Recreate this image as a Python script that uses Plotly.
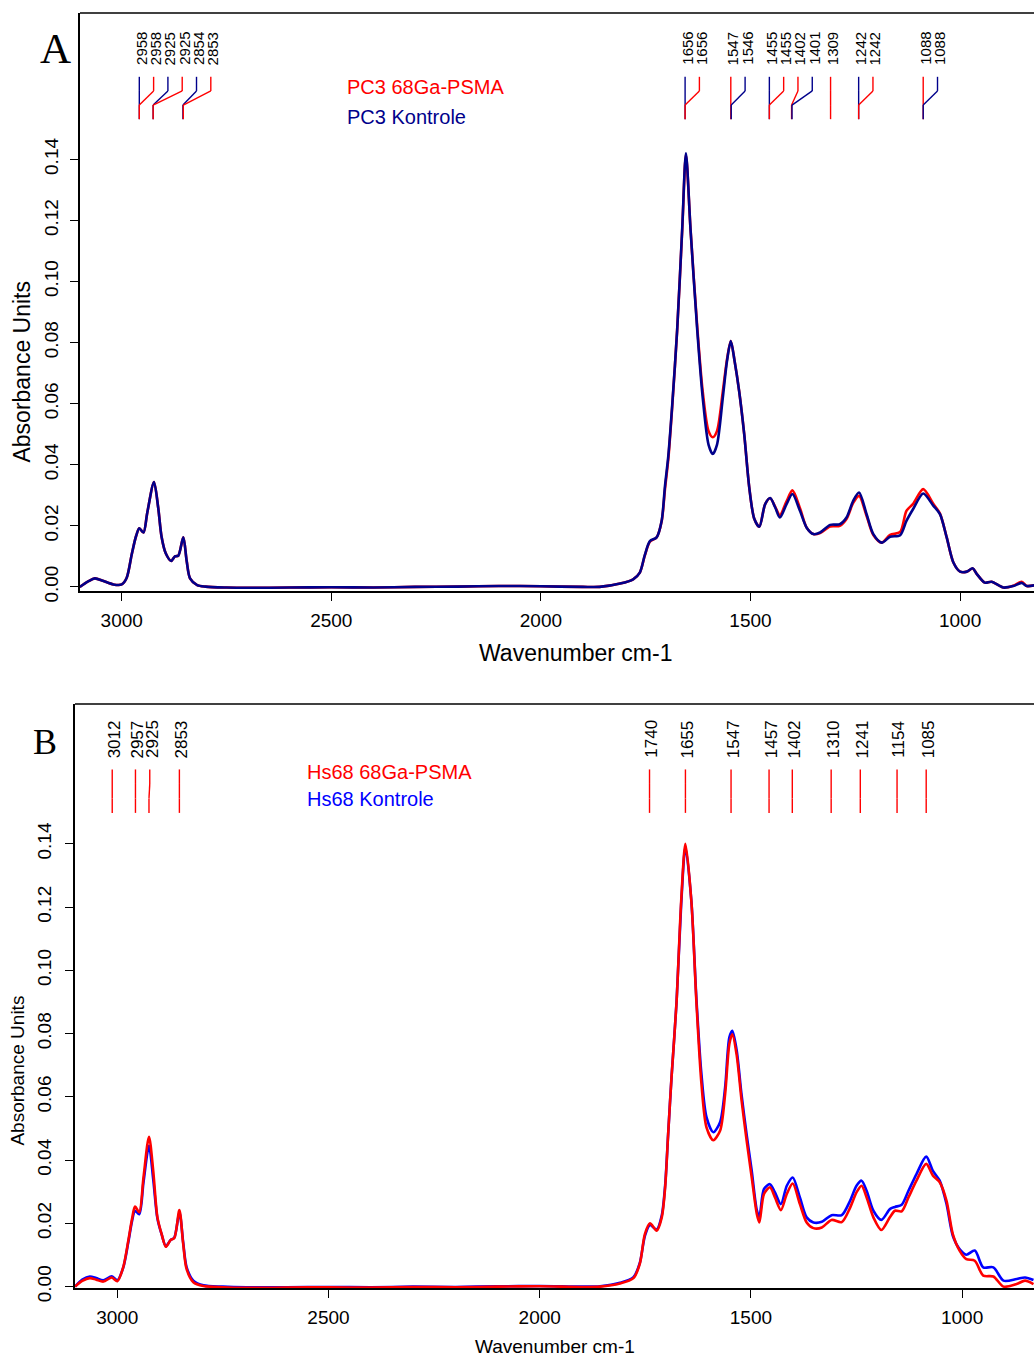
import plotly.graph_objects as go

REF_W, REF_H = 1034, 1356      # reference picture size; all positions below are in its pixels
W = REF_W
H = 1372                        # figure height: the page capture is squeezed to 1356 px tall

# ---------------- Panel A data (PC3) ----------------
wn_a = [3100, 3080, 3064, 3045, 3020, 3000, 2988, 2976, 2966, 2958, 2948, 2939, 2923, 2913, 2905,
        2895, 2882, 2873, 2865, 2853, 2845, 2837, 2820, 2800, 2750, 2700, 2600, 2500, 2400, 2300,
        2200, 2100, 2000, 1900, 1860, 1811, 1780, 1764, 1752, 1740, 1724, 1712, 1704, 1696, 1687,
        1675, 1663, 1654, 1643, 1627, 1614, 1600, 1590, 1580, 1566, 1556, 1547, 1538, 1527, 1515,
        1503, 1491, 1479, 1465, 1453, 1441, 1430, 1414, 1400, 1382, 1366, 1350, 1334, 1310, 1287,
        1271, 1255, 1241, 1223, 1207, 1187, 1167, 1143, 1128, 1112, 1088, 1064, 1048, 1032, 1016,
        1000, 984, 970, 960, 941, 925, 897, 873, 853, 841, 820]
a_kontrole = [0.0000, 0.0018, 0.0028, 0.0020, 0.0008, 0.0008, 0.0030, 0.0107, 0.0165, 0.0192, 0.0178, 0.0243, 0.0343, 0.0260, 0.0165,
              0.0110, 0.0085, 0.0100, 0.0102, 0.0162, 0.0085, 0.0028, 0.0006, 0.0001, -0.0002, -0.0003, -0.0002, -0.0001, -0.0002, 0.0000,
              0.0001, 0.0003, 0.0002, 0.0000, 0.0000, 0.0011, 0.0025, 0.0047, 0.0105, 0.0150, 0.0162, 0.0216, 0.0330, 0.0430, 0.0590,
              0.0840, 0.1170, 0.1420, 0.1170, 0.0840, 0.0620, 0.0465, 0.0435, 0.0465, 0.0620, 0.0740, 0.0805, 0.0740, 0.0640, 0.0500,
              0.0326, 0.0223, 0.0197, 0.0271, 0.0291, 0.0260, 0.0227, 0.0271, 0.0304, 0.0249, 0.0194, 0.0173, 0.0178, 0.0203, 0.0205,
              0.0227, 0.0282, 0.0309, 0.0238, 0.0173, 0.0145, 0.0164, 0.0169, 0.0216, 0.0255, 0.0306, 0.0266, 0.0238, 0.0162, 0.0080,
              0.0050, 0.0050, 0.0061, 0.0042, 0.0014, 0.0017, -0.0002, 0.0003, 0.0013, 0.0003, 0.0006]
a_psma = [0.0000, 0.0018, 0.0028, 0.0020, 0.0008, 0.0008, 0.0030, 0.0107, 0.0165, 0.0192, 0.0178, 0.0243, 0.0343, 0.0260, 0.0165,
          0.0110, 0.0085, 0.0100, 0.0102, 0.0162, 0.0085, 0.0028, 0.0006, 0.0001, -0.0002, -0.0003, -0.0002, -0.0001, -0.0002, 0.0000,
          0.0001, 0.0003, 0.0002, 0.0000, 0.0000, 0.0011, 0.0025, 0.0047, 0.0103, 0.0148, 0.0162, 0.0214, 0.0320, 0.0420, 0.0585,
          0.0840, 0.1165, 0.1415, 0.1170, 0.0850, 0.0640, 0.0510, 0.0490, 0.0510, 0.0640, 0.0745, 0.0805, 0.0740, 0.0640, 0.0500,
          0.0326, 0.0223, 0.0197, 0.0271, 0.0290, 0.0262, 0.0235, 0.0280, 0.0316, 0.0258, 0.0194, 0.0173, 0.0176, 0.0198, 0.0200,
          0.0222, 0.0275, 0.0298, 0.0232, 0.0170, 0.0145, 0.0170, 0.0180, 0.0249, 0.0272, 0.0320, 0.0272, 0.0240, 0.0162, 0.0080,
          0.0050, 0.0050, 0.0060, 0.0042, 0.0014, 0.0017, -0.0002, 0.0004, 0.0017, 0.0003, 0.0006]

# ---------------- Panel B data (Hs68) ----------------
wn_b = [3100, 3083, 3065, 3050, 3033, 3013, 3000, 2986, 2974, 2965, 2958, 2948, 2938, 2925, 2915,
        2905, 2895, 2885, 2874, 2865, 2853, 2844, 2836, 2820, 2796, 2750, 2694, 2600, 2500, 2400,
        2300, 2200, 2100, 2000, 1900, 1857, 1810, 1778, 1763, 1751, 1739, 1723, 1711, 1703, 1696,
        1688, 1676, 1665, 1655, 1641, 1629, 1617, 1605, 1589, 1573, 1561, 1551, 1544, 1534, 1522,
        1510, 1498, 1486, 1480, 1469, 1455, 1443, 1429, 1415, 1401, 1384, 1368, 1352, 1332, 1309,
        1285, 1265, 1250, 1238, 1226, 1210, 1191, 1171, 1159, 1143, 1127, 1108, 1085, 1069, 1053,
        1037, 1022, 1006, 990, 970, 950, 926, 902, 871, 851, 831]
b_psma = [0.0000, 0.0018, 0.0027, 0.0022, 0.0016, 0.0029, 0.0017, 0.0061, 0.0145, 0.0215, 0.0253, 0.0235, 0.0345, 0.0474, 0.0367,
          0.0219, 0.0166, 0.0126, 0.0147, 0.0154, 0.0242, 0.0135, 0.0056, 0.0014, 0.0002, -0.0002, -0.0004, -0.0003, -0.0002, -0.0003,
          -0.0001, -0.0002, 0.0000, 0.0001, -0.0001, 0.0000, 0.0010, 0.0027, 0.0072, 0.0166, 0.0200, 0.0177, 0.0219, 0.0314, 0.0480,
          0.0660, 0.0900, 0.1220, 0.1400, 0.1220, 0.0900, 0.0640, 0.0503, 0.0463, 0.0493, 0.0609, 0.0767, 0.0798, 0.0735, 0.0588,
          0.0461, 0.0345, 0.0230, 0.0203, 0.0293, 0.0314, 0.0282, 0.0242, 0.0293, 0.0326, 0.0261, 0.0203, 0.0185, 0.0187, 0.0211,
          0.0204, 0.0250, 0.0298, 0.0319, 0.0282, 0.0219, 0.0179, 0.0219, 0.0240, 0.0238, 0.0282, 0.0335, 0.0388, 0.0351, 0.0330,
          0.0272, 0.0166, 0.0114, 0.0087, 0.0082, 0.0035, 0.0032, 0.0000, 0.0008, 0.0019, 0.0008]
b_kontrole = [0.0000, 0.0022, 0.0032, 0.0027, 0.0020, 0.0033, 0.0020, 0.0060, 0.0140, 0.0208, 0.0240, 0.0229, 0.0330, 0.0445, 0.0340,
              0.0215, 0.0165, 0.0128, 0.0147, 0.0155, 0.0235, 0.0140, 0.0062, 0.0019, 0.0004, 0.0000, -0.0002, -0.0002, -0.0001, -0.0002,
              0.0000, -0.0001, 0.0001, 0.0002, 0.0000, 0.0001, 0.0012, 0.0030, 0.0075, 0.0160, 0.0195, 0.0180, 0.0225, 0.0320, 0.0480,
              0.0660, 0.0900, 0.1210, 0.1390, 0.1220, 0.0910, 0.0670, 0.0535, 0.0488, 0.0520, 0.0630, 0.0788, 0.0809, 0.0750, 0.0605,
              0.0480, 0.0366, 0.0242, 0.0221, 0.0309, 0.0324, 0.0298, 0.0261, 0.0319, 0.0345, 0.0282, 0.0219, 0.0203, 0.0205, 0.0226,
              0.0226, 0.0272, 0.0319, 0.0335, 0.0303, 0.0240, 0.0211, 0.0245, 0.0252, 0.0259, 0.0303, 0.0356, 0.0411, 0.0366, 0.0335,
              0.0262, 0.0161, 0.0119, 0.0101, 0.0114, 0.0061, 0.0061, 0.0019, 0.0024, 0.0029, 0.0021]

# ---------------- Peak labels ----------------
peaks_a = [2958, 2958, 2925, 2925, 2854, 2853, 1656, 1656, 1547, 1546, 1455, 1455, 1402, 1401, 1309, 1242, 1242, 1088, 1088]
peaks_a_series = ["K", "P", "K", "P", "K", "P", "K", "P", "P", "K", "K", "P", "P", "K", "P", "K", "P", "P", "K"]
peaks_b = [3012, 2957, 2925, 2853, 1740, 1655, 1547, 1457, 1402, 1310, 1241, 1154, 1085]

x_ticks = [3000, 2500, 2000, 1500, 1000]
y_ticks = [0.00, 0.02, 0.04, 0.06, 0.08, 0.10, 0.12, 0.14]

RED = "#FF0000"
NAVY = "#00008B"
BLUE = "#0000FF"
SANS = "Liberation Sans, Arial, sans-serif"
SERIF = "Liberation Serif, Times New Roman, serif"

# geometry (reference pixels)
A_left, A_top, A_bot = 80, 13, 590
B_left, B_top, B_bot = 75, 703, 1286
A_x3000, A_ppu = 121.7, 0.4192
B_x3000, B_ppu = 117.3, 0.4224


def xfrac(px):
    return px / REF_W


def yfrac(py):
    return 1 - py / REF_H


fig = go.Figure()
fig.add_trace(go.Scatter(x=wn_a, y=a_psma, mode="lines", line=dict(color=RED, width=2.6, shape="spline", smoothing=0.8),
                         xaxis="x", yaxis="y", name="PC3 68Ga-PSMA"))
fig.add_trace(go.Scatter(x=wn_a, y=a_kontrole, mode="lines", line=dict(color=NAVY, width=2.6, shape="spline", smoothing=0.8),
                         xaxis="x", yaxis="y", name="PC3 Kontrole"))
fig.add_trace(go.Scatter(x=wn_b, y=b_kontrole, mode="lines", line=dict(color=BLUE, width=2.6, shape="spline", smoothing=0.8),
                         xaxis="x2", yaxis="y2", name="Hs68 Kontrole"))
fig.add_trace(go.Scatter(x=wn_b, y=b_psma, mode="lines", line=dict(color=RED, width=2.6, shape="spline", smoothing=0.8),
                         xaxis="x2", yaxis="y2", name="Hs68 68Ga-PSMA"))

axis_common = dict(showgrid=False, zeroline=False, showline=True, linecolor="black", linewidth=1.5,
                   ticks="outside", ticklen=8, tickwidth=1.3, tickcolor="black",
                   tickfont=dict(family=SANS, size=19, color="black"))

xa_range = [3000 + (A_x3000 - A_left) / A_ppu, 3000 - (REF_W - A_x3000) / A_ppu]
xb_range = [3000 + (B_x3000 - B_left) / B_ppu, 3000 - (REF_W - B_x3000) / B_ppu]

fig.update_layout(
    width=W, height=H, margin=dict(l=0, r=0, t=0, b=0),
    paper_bgcolor="white", plot_bgcolor="white", showlegend=False,
    xaxis=dict(domain=[xfrac(A_left), 1], range=xa_range, tickvals=x_ticks, anchor="y",
               ticklabelstandoff=4, **axis_common),
    yaxis=dict(domain=[yfrac(A_bot), yfrac(A_top)], range=[-0.0013, 0.1879], tickvals=y_ticks, tickformat=".2f",
               tickangle=-90, anchor="x", ticklabelstandoff=5, **axis_common),
    xaxis2=dict(domain=[xfrac(B_left), 1], range=xb_range, tickvals=x_ticks, anchor="y2",
                ticklabelstandoff=4, **axis_common),
    yaxis2=dict(domain=[yfrac(B_bot), yfrac(B_top)], range=[-0.0004, 0.1842], tickvals=y_ticks, tickformat=".2f",
                tickangle=-90, anchor="x2", ticklabelstandoff=7, **axis_common),
)

shapes = []
annotations = []

# top frame lines
for xr, yr in (("x domain", "y domain"), ("x2 domain", "y2 domain")):
    shapes.append(dict(type="line", xref=xr, yref=yr, x0=0, x1=1, y0=1, y1=1,
                       line=dict(color="black", width=1.5)))


def spread(peaks, gap):
    out = []
    for p in peaks:
        if out and out[-1] - p < gap:
            out.append(out[-1] - gap)
        else:
            out.append(p)
    return out


def add_peak_marks(peaks, colors, xref, yref, top, bot, y_lines, y_text, px_per_unit, fsize):
    gap = 14.3 / px_per_unit
    labx = spread(peaks, gap)
    f = lambda py: (bot - py) / (bot - top)
    y0, y1, y2, y3 = [f(v) for v in y_lines]
    for p, lx, c in zip(peaks, labx, colors):
        seg = [(lx, y0, lx, y1), (lx, y1, p, y2), (p, y2, p, y3)]
        for xa, ya, xb, yb in seg:
            shapes.append(dict(type="line", xref=xref, yref=yref + " domain", x0=xa, y0=ya, x1=xb, y1=yb,
                               line=dict(color=c, width=1.4)))
        annotations.append(dict(text=str(p), x=lx, xref=xref, y=f(y_text), yref=yref + " domain",
                                xanchor="center", yanchor="bottom", textangle=-90, showarrow=False, xshift=2,
                                font=dict(family=SANS, size=fsize, color="black")))


cols_a = [RED if s == "P" else NAVY for s in peaks_a_series]
add_peak_marks(peaks_a, cols_a, "x", "y", A_top, A_bot, (76.7, 90.8, 104.9, 119.0), 67, A_ppu, 15)
add_peak_marks(peaks_b, [RED] * len(peaks_b), "x2", "y2", B_top, B_bot, (768.3, 782.8, 797.2, 811.7), 759, B_ppu, 17)


def pa(px, py, text, size, color="black", family=SANS, angle=0, xanchor="center", yanchor="middle"):
    annotations.append(dict(text=text, x=xfrac(px), y=yfrac(py), xref="paper", yref="paper", showarrow=False,
                            xanchor=xanchor, yanchor=yanchor, textangle=angle,
                            font=dict(family=family, size=size, color=color)))


# panel letters
pa(55, 48, "A", 43, family=SERIF)
pa(45, 741, "B", 36, family=SERIF)
# legends
pa(345, 87, "PC3 68Ga-PSMA", 20, color=RED, xanchor="left")
pa(345, 117, "PC3 Kontrole", 20, color=NAVY, xanchor="left")
pa(305, 771, "Hs68 68Ga-PSMA", 20, color=RED, xanchor="left")
pa(305, 798, "Hs68 Kontrole", 20, color=BLUE, xanchor="left")
# axis titles
pa(575, 652, "Wavenumber cm-1", 23)
pa(22, 371, "Absorbance Units", 23, angle=-90)
pa(555, 1345, "Wavenumber cm-1", 19)
pa(18, 1069, "Absorbance Units", 19, angle=-90)

fig.update_layout(shapes=shapes, annotations=annotations)

# pin the figure to the page's top-left corner so the page is exactly the figure
PIN_JS = """
document.documentElement.style.margin = '0px';
document.documentElement.style.overflow = 'hidden';
document.body.style.margin = '0px';
document.body.style.overflow = 'hidden';
document.body.style.height = '%dpx';
var gd = document.getElementById('{plot_id}');
gd.style.position = 'fixed';
gd.style.left = '0px';
gd.style.top = '0px';
""" % H

fig.write_html("out.html", config={"displayModeBar": False}, post_script=PIN_JS)
